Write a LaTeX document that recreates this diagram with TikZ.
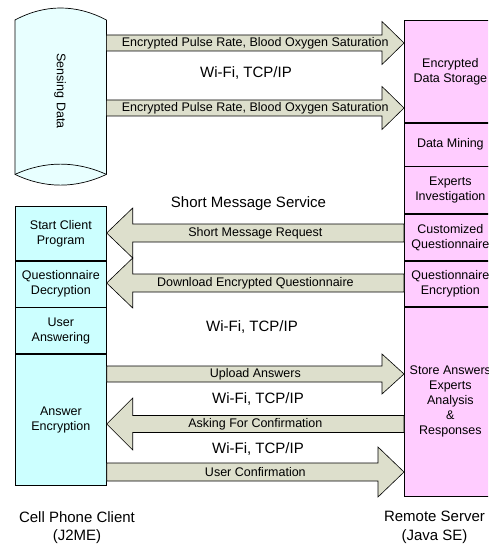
\documentclass[tikz,border=0pt]{standalone}
\usepackage{fontspec}
\setmainfont{Liberation Sans}
\usetikzlibrary{calc}

\definecolor{cylfill}{RGB}{232,255,255}
\definecolor{clientfill}{RGB}{204,255,255}
\definecolor{serverfill}{RGB}{255,204,255}
\definecolor{arrowfill}{RGB}{221,223,204}

\begin{document}
\begin{tikzpicture}[x=1pt,y=-1pt,
  every node/.style={font=\fontsize{12.5}{15}\selectfont},
  big/.style={font=\fontsize{15}{18.5}\selectfont, align=center},
  cbox/.style={draw=black, line width=0.7pt, fill=clientfill, minimum width=91pt,
    inner sep=0pt, align=center, anchor=north west},
  sbox/.style={draw=black, line width=0.7pt, fill=serverfill, minimum width=92pt,
    inner sep=0pt, align=center, anchor=north west},
  blk/.style={draw=black, line width=0.6pt, fill=arrowfill},
  % block arrow pointing right: half body, half head, head length
  rblock/.style n args={3}{to path={let \p1=(\tikztostart), \p2=(\tikztotarget) in
    (\x1,\y1+#1) -- (\x2-#3,\y1+#1) -- (\x2-#3,\y1+#2) -- (\x2,\y1)
    -- (\x2-#3,\y1-#2) -- (\x2-#3,\y1-#1) -- (\x1,\y1-#1) -- cycle}},
  % block arrow pointing left
  lblock/.style n args={3}{to path={let \p1=(\tikztostart), \p2=(\tikztotarget) in
    (\x1,\y1+#1) -- (\x2+#3,\y1+#1) -- (\x2+#3,\y1+#2) -- (\x2,\y1)
    -- (\x2+#3,\y1-#2) -- (\x2+#3,\y1-#1) -- (\x1,\y1-#1) -- cycle}}
]
\clip (0,0) rectangle (488,545);

% sensing data cylinder
\node[minimum width=91pt, minimum height=154pt, inner sep=0pt, anchor=north west] (sd) at (15,20) {};
\draw[line width=0.7pt, fill=cylfill]
  (sd.north west) .. controls (45,4) and (76,4) .. (sd.north east)
  -- (sd.south east) .. controls (76,188.7) and (45,188.7) .. (sd.south west) -- cycle;
\draw[line width=0.7pt] (sd.south west) .. controls (45,160.7) and (76,160.7) .. (sd.south east);
\node[rotate=-90] (sdtext) at (60,91) {Sensing Data};

% client side
\node[cbox, minimum height=54pt] (scp) at (15,206) {Start Client\\Program};
\node[cbox, minimum height=46pt] (qd) at (scp.south west) {Questionnaire\\Decryption};
\node[cbox, minimum height=46pt] (ua) at (qd.south west) {User\\Answering};
\node[cbox, minimum height=131pt] (ae) at (ua.south west) {Answer\\Encryption};

% server side
\node[sbox, minimum height=102pt] (eds) at (404,20) {Encrypted\\Data Storage};
\node[sbox, minimum height=43pt] (dm) at (eds.south west) {Data Mining};
\node[sbox, minimum height=47pt] (ei) at (dm.south west) {Experts\\Investigation};
\node[sbox, minimum height=46pt] (cq) at (ei.south west) {Customized\\Questionnaire};
\node[sbox, minimum height=45pt] (qe) at (cq.south west) {Questionnaire\\Encryption};
\node[sbox, minimum height=189pt] (sa) at (qe.south west) {Store Answers\\Experts\\Analysis\\\&\\Responses};

% arrow end points
\coordinate (a1s) at (sd.east |- 0,43);   \coordinate (a1e) at (eds.west |- 0,43);
\coordinate (a2s) at (sd.east |- 0,108);  \coordinate (a2e) at (eds.west |- 0,108);
\coordinate (a3s) at (cq.west |- 0,233);  \coordinate (a3e) at (scp.east |- 0,233);
\coordinate (a4s) at (qe.west |- 0,283);  \coordinate (a4e) at (qd.east |- 0,283);
\coordinate (a5s) at (ae.east |- 0,374);  \coordinate (a5e) at (sa.west |- 0,374);
\coordinate (a6s) at (sa.west |- 0,424);  \coordinate (a6e) at (ae.east |- 0,424);
\coordinate (a7s) at (ae.east |- 0,472);  \coordinate (a7e) at (sa.west |- 0,472);

% block arrows
\draw[blk, rblock={8pt}{21.5pt}{22pt}] (a1s) to (a1e);
\draw[blk, rblock={8pt}{21.5pt}{22pt}] (a2s) to (a2e);
\draw[blk, lblock={9pt}{25pt}{26pt}] (a3s) to (a3e);
\draw[blk, lblock={9pt}{25pt}{26pt}] (a4s) to (a4e);
\draw[blk, rblock={8pt}{20pt}{22pt}] (a5s) to (a5e);
\draw[blk, lblock={8.5pt}{26pt}{26pt}] (a6s) to (a6e);
\draw[blk, rblock={9pt}{25pt}{26pt}] (a7s) to (a7e);

% arrow labels
\path (a1s) -- node (l1) {Encrypted Pulse Rate, Blood Oxygen Saturation} (a1e);
\path (a2s) -- node (l2) {Encrypted Pulse Rate, Blood Oxygen Saturation} (a2e);
\path (a3s) -- node (l3) {Short Message Request} (a3e);
\path (a4s) -- node (l4) {Download Encrypted Questionnaire} (a4e);
\path (a5s) -- node (l5) {Upload Answers} (a5e);
\path (a6s) -- node (l6) {Asking For Confirmation} (a6e);
\path (a7s) -- node (l7) {User Confirmation} (a7e);

% channel captions
\node[big] (w1) at (246,73) {Wi-Fi, TCP/IP};
\node[big] (sms) at (248.5,204) {Short Message Service};
\node[big] (w2) at (252,327) {Wi-Fi, TCP/IP};
\node[big] (w3) at (258,399) {Wi-Fi, TCP/IP};
\node[big] (w4) at (258,449) {Wi-Fi, TCP/IP};

% bottom captions
\node[big] (client) at (77,527.5) {Cell Phone Client\\(J2ME)};
\node[big] (server) at (434.5,527.5) {Remote Server\\(Java SE)};
\end{tikzpicture}
\end{document}
